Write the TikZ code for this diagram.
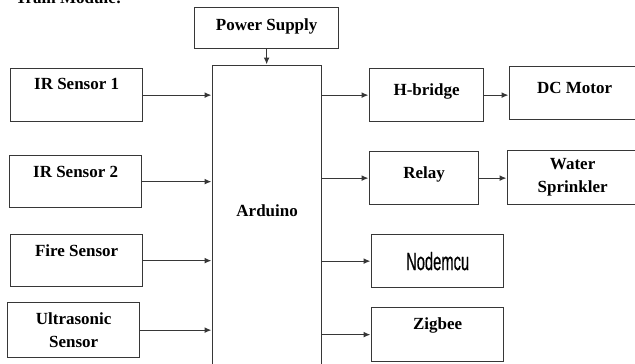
\documentclass[tikz,border=0pt]{standalone}
\usepackage{fontspec}
\setmainfont{Liberation Serif}
\newfontfamily\nodemcufont[FakeBold=0.6]{Liberation Sans}
\usepackage{graphicx}
\usetikzlibrary{arrows.meta, positioning, calc}
\definecolor{LineGray}{RGB}{55,55,55}
\tikzset{
  >={Latex[length=7pt,width=6pt]},  % frecce piene
  % Blocchi del modulo
  blk/.style={draw=LineGray,line width=1.3pt,inner sep=0pt,anchor=north west,
    font=\fontsize{17}{23}\selectfont\bfseries},
  blk two/.style={blk,align=center},
  title/.style={anchor=base west,font=\fontsize{17}{21}\selectfont\bfseries},
  % Connessioni
  conn/.style={->,draw=LineGray,line width=1.3pt,shorten >=0.5pt}
}
\begin{document}
\begin{tikzpicture}[x=1pt,y=-1pt]
  \useasboundingbox (0,0) rectangle (635,364);
  \clip (0,0) rectangle (635,364);
  \node[title] (tm) at (12,3) {Train Module:};
  % alimentazione e scheda
  \node[blk,minimum width=144pt,text height=23pt,text depth=18pt] (ps) at (194,7) {Power Supply};
  \node[blk,minimum width=109pt,text height=151pt,text depth=154pt] (ard) at (212,65) {Arduino};
  % sensori
  \node[blk,minimum width=132pt,text height=21pt,text depth=32pt] (ir1) at (10,68) {IR Sensor 1};
  \node[blk,minimum width=132pt,text height=22pt,text depth=30pt] (ir2) at (9,155) {IR Sensor 2};
  \node[blk,minimum width=132pt,text height=22pt,text depth=30pt] (fire) at (10,234) {Fire Sensor};
  \node[blk two,minimum width=132pt,minimum height=55pt] (us) at (7,302) {Ultrasonic\\Sensor};
  % uscite
  \node[blk,minimum width=114pt,text height=27pt,text depth=26pt] (hb) at (369,68) {H-bridge};
  \node[blk,minimum width=130pt,text height=27pt,text depth=26pt] (dc) at (509,66) {DC Motor};
  \node[blk,minimum width=109pt,text height=27pt,text depth=26pt] (rl) at (369,151) {Relay};
  \node[blk two,minimum width=130pt,minimum height=54pt] (ws) at (507,150) {Water\\Sprinkler};
  \node[blk,minimum width=132pt,minimum height=53pt,font=\fontsize{25}{28}\nodemcufont]
    (nm) at (371,234) {\scalebox{0.59}[1]{Nodemcu}};
  \node[blk,minimum width=132pt,text height=22pt,text depth=32pt] (zb) at (371,307) {Zigbee};
  \draw[conn] (ps.south) -- (ps.south |- ard.north);
  \foreach \s in {ir1,ir2,fire,us}
    \draw[conn] (\s.east) -- (\s.east -| ard.west);
  \foreach \t in {hb,rl,nm,zb}
    \draw[conn] (\t.west -| ard.east) -- (\t.west);
  \draw[conn] (hb.east) -- (hb.east -| dc.west);
  \draw[conn] (rl.east) -- (rl.east -| ws.west);
\end{tikzpicture}
\end{document}
